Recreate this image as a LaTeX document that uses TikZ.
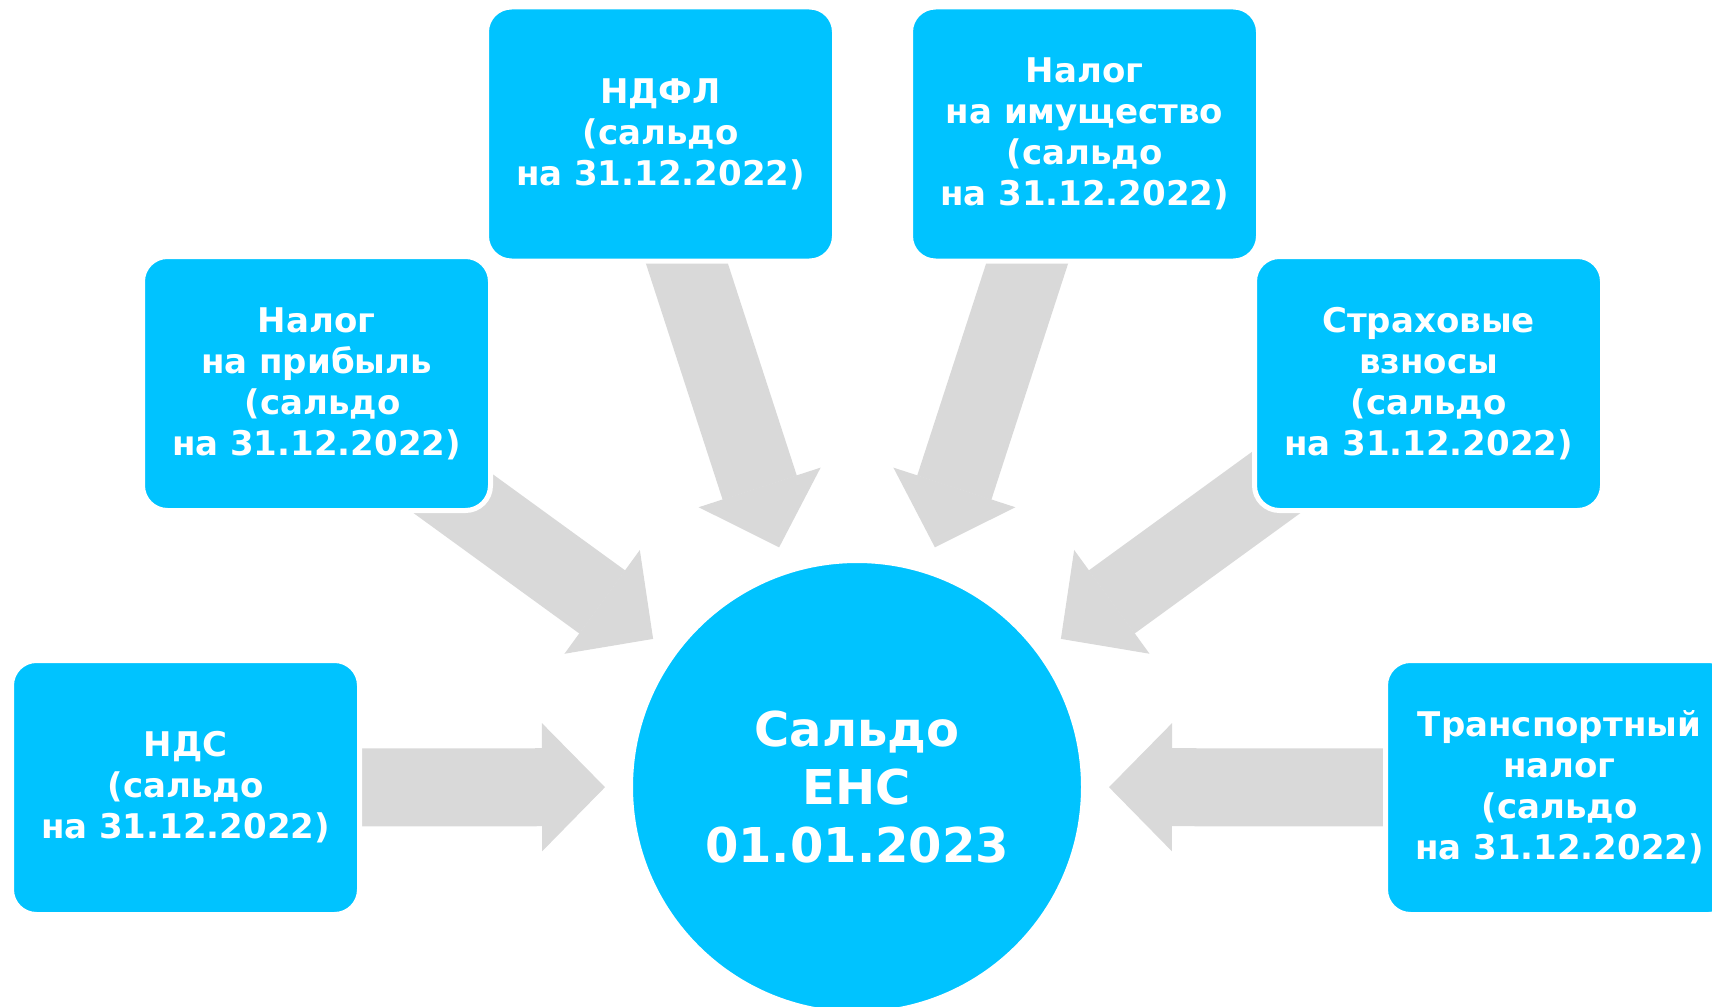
\documentclass[tikz,border=0pt]{standalone}
\usepackage{fontspec}
\setmainfont{DejaVu Sans}
\usepackage{xcolor}
\usetikzlibrary{arrows.meta,backgrounds}
\definecolor{boxblue}{RGB}{0,195,255}
\definecolor{arrowgray}{RGB}{217,217,217}

\begin{document}
\begin{tikzpicture}[x=0.5pt, y=-0.5pt,
	taxbox/.style={draw=white, line width=2.5pt, fill=boxblue, rounded corners=12.5pt, minimum width=174pt, minimum height=127pt, inner sep=0pt, align=center, text=white, font=\fontsize{17}{20.5}\selectfont\bfseries},
	saldo/.style={circle, draw=white, line width=2.5pt, fill=boxblue, minimum size=226.5pt, inner sep=0pt, align=center, text=white, font=\fontsize{24}{29}\selectfont\bfseries},
	bigarrow/.style={draw=arrowgray, line width=39pt, shorten >=11.5pt, -{Triangle[width=64pt, length=31.5pt, line width=0.6pt]}}]
	\useasboundingbox (0,0) rectangle (1712,1006);
	\node[saldo] (ens) at (857,787) {Сальдо\\ЕНС\\01.01.2023};
	\node[taxbox] (nds) at (185.5,787.5) {НДС\\(сальдо\\на 31.12.2022)};
	\node[taxbox] (pribyl) at (316.5,383.5) {Налог\\на прибыль\\\hspace*{0.35em}(сальдо\\на 31.12.2022)};
	\node[taxbox] (ndfl) at (660.5,134) {НДФЛ\\(сальдо\\на 31.12.2022)};
	\node[taxbox] (imush) at (1084.5,134) {Налог\\на имущество\\(сальдо\\на 31.12.2022)};
	\node[taxbox] (strah) at (1428.5,383.5) {Страховые\\взносы\\(сальдо\\на 31.12.2022)};
	\node[taxbox] (transp) at (1559.5,787.5) {Транспортный\\налог\\(сальдо\\на 31.12.2022)};
	
	\begin{scope}[on background layer]
		\draw[bigarrow] (nds.center) -- (ens);
		\draw[bigarrow] ([xshift=-7.5pt]pribyl.center) -- (ens);
		\draw[bigarrow] ([xshift=-7.85pt]ndfl.center) -- (ens);
		\draw[bigarrow] ([xshift=-7.65pt]imush.center) -- (ens);
		\draw[bigarrow] ([xshift=-8.05pt]strah.center) -- (ens);
		\draw[bigarrow] (transp.center) -- (ens);
	\end{scope}
\end{tikzpicture}
\end{document}
